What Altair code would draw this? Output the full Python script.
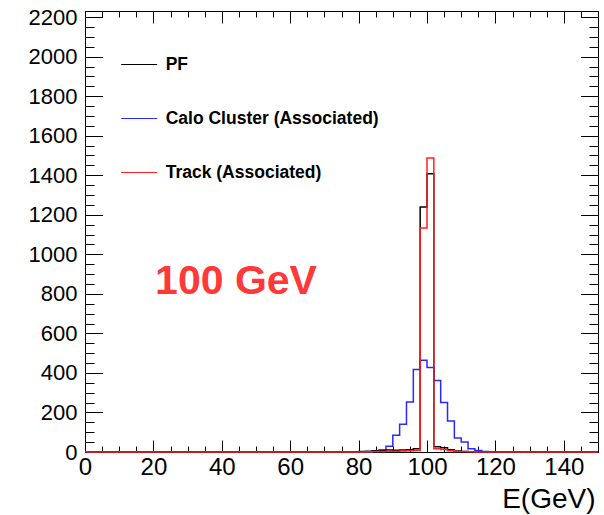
import altair as alt
import pandas as pd

# ---------------- data ----------------
BIN_WIDTH = 2
X_MIN, X_MAX = 0, 150
Y_MAX = 2231

series_names = ["PF", "Calo Cluster (Associated)", "Track (Associated)"]
series_colors = ["#000000", "#2a2aff", "#ff2020"]

# lower edges of the bins that are populated (all other bins are empty)
peak_bin_starts = [80, 82, 84, 86, 88, 90, 92, 94, 96, 98, 100, 102, 104, 106, 108, 110, 112, 114, 116]
pf_counts       = [2, 4, 6, 8, 10, 9, 10, 12, 16, 1239, 1408, 26, 21, 12, 5, 3, 1, 1, 0]
calo_counts     = [0, 0, 3, 10, 29, 85, 140, 253, 417, 464, 427, 362, 250, 157, 71, 50, 17, 8, 2]
track_counts    = [0, 1, 2, 3, 4, 4, 5, 6, 8, 1133, 1487, 17, 13, 6, 3, 2, 1, 0, 0]

x_major = [0, 20, 40, 60, 80, 100, 120, 140]
x_minor = list(range(0, 151, 5))
y_major = list(range(0, 2201, 200))
y_minor = list(range(0, 2201, 50))

annotation_text = "100 GeV"
annotation_x = [20.5]
annotation_y = [800]

# ---------------- table ----------------
rows = []
for name, counts in zip(series_names, [pf_counts, calo_counts, track_counts]):
    lookup = dict(zip(peak_bin_starts, counts))
    for e in range(X_MIN, X_MAX, BIN_WIDTH):
        rows.append({"E": e, "N": lookup.get(e, 0), "series": name})
    rows.append({"E": X_MAX, "N": 0, "series": name})
df = pd.DataFrame(rows)
ann = pd.DataFrame({"E": annotation_x, "N": annotation_y, "label": [annotation_text]})

FONT = "Liberation Sans"
W, H = 513, 441

xs = alt.Scale(domain=[X_MIN, X_MAX], nice=False, zero=False)
ys = alt.Scale(domain=[0, Y_MAX], nice=False)

common = dict(domain=False, grid=False, tickColor="black", tickWidth=1, title=None)

ax_x_main = alt.Axis(orient="bottom", values=x_major, offset=-12, tickSize=12, labelPadding=3,
                     labelFont=FONT, labelFontSize=24, labelColor="black", labelFlush=False,
                     labelOverlap=False, format="d", domain=False, grid=False,
                     tickColor="black", tickWidth=1,
                     title="E(GeV)", titleFont=FONT, titleFontSize=28, titleFontWeight="normal",
                     titleColor="black", titleAnchor="end", titleAlign="right",
                     titleBaseline="alphabetic", titleX=510, titleY=67)
ax_x_minor_b = alt.Axis(orient="bottom", values=x_minor, offset=-6, tickSize=6, labels=False, **common)
ax_x_major_t = alt.Axis(orient="top", values=x_major, offset=-12, tickSize=12, labels=False, **common)
ax_x_minor_t = alt.Axis(orient="top", values=x_minor, offset=-6, tickSize=6, labels=False, **common)

ax_y_main = alt.Axis(orient="left", values=y_major, offset=-17.5, tickSize=17.5, labelPadding=8,
                     labelFont=FONT, labelFontSize=22, labelColor="black", labelOverlap=False,
                     format="d", **common)
ax_y_minor_l = alt.Axis(orient="left", values=y_minor, offset=-9, tickSize=9, labels=False, **common)
ax_y_major_r = alt.Axis(orient="right", values=y_major, offset=-17.5, tickSize=17.5, labels=False, **common)
ax_y_minor_r = alt.Axis(orient="right", values=y_minor, offset=-9, tickSize=9, labels=False, **common)

legend = alt.Legend(title=None, orient="none", legendX=35.7, legendY=35, symbolType="stroke",
                    symbolSize=1296, symbolStrokeWidth=1, labelFont=FONT, labelFontSize=17.5,
                    labelFontWeight="bold", labelColor="black", labelOffset=8, rowPadding=27,
                    padding=0, labelLimit=0)
color = alt.Color("series:N", scale=alt.Scale(domain=series_names, range=series_colors), legend=legend)


def hist(name, xa, ya):
    return (alt.Chart(df).transform_filter(alt.datum.series == name)
            .mark_line(interpolate="step-after", strokeWidth=1.5)
            .encode(x=alt.X("E:Q", scale=xs, axis=xa), y=alt.Y("N:Q", scale=ys, axis=ya), color=color))


calo = hist(series_names[1], ax_x_main, ax_y_main)
pf = hist(series_names[0], ax_x_minor_b, ax_y_minor_l)
track = hist(series_names[2], ax_x_major_t, ax_y_major_r)

label = alt.Chart(ann).mark_text(align="left", baseline="alphabetic", font=FONT, fontSize=41,
                                 fontWeight="bold", color="#ff3838").encode(
    x=alt.X("E:Q", scale=xs, axis=ax_x_minor_t),
    y=alt.Y("N:Q", scale=ys, axis=ax_y_minor_r),
    text="label:N")

chart = (alt.layer(calo, pf, track, label)
         .resolve_axis(x="independent", y="independent")
         .properties(width=W, height=H, background="white",
                     autosize=alt.AutoSizeParams(type="none"),
                     padding={"left": 85, "top": 11, "right": 604 - 85 - W, "bottom": 515 - 11 - H})
         .configure_view(stroke="black", strokeWidth=1))

chart.save("out.html", embed_options={"renderer": "svg", "actions": False})
